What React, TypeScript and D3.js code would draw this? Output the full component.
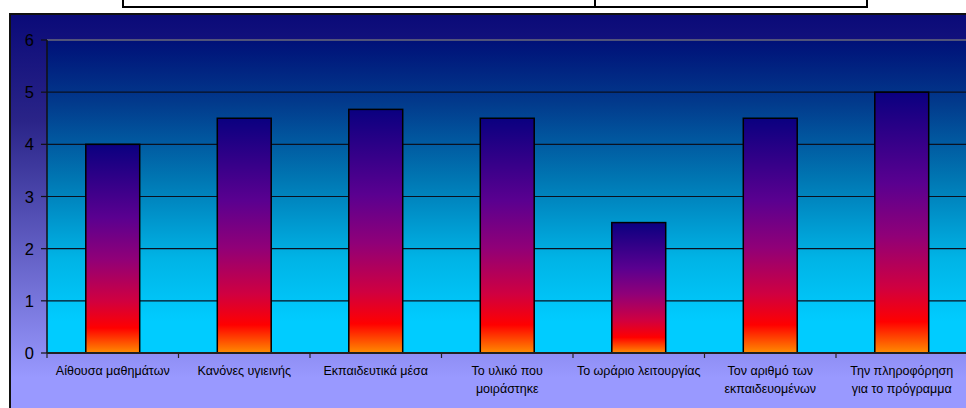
import React from "react";
import * as d3 from "d3";

const categories = [
  "Αίθουσα μαθημάτων",
  "Κανόνες υγιεινής",
  "Εκπαιδευτικά μέσα",
  "Το υλικό που μοιράστηκε",
  "Το ωράριο λειτουργίας",
  "Τον αριθμό των εκπαιδευομένων",
  "Την πληροφόρηση για το πρόγραμμα",
];
const labelLines = [
  ["Αίθουσα μαθημάτων"],
  ["Κανόνες υγιεινής"],
  ["Εκπαιδευτικά μέσα"],
  ["Το υλικό που", "μοιράστηκε"],
  ["Το ωράριο λειτουργίας"],
  ["Τον αριθμό των", "εκπαιδευομένων"],
  ["Την πληροφόρηση", "για το πρόγραμμα"],
];
const values = [4, 4.5, 4.67, 4.5, 2.5, 4.5, 5];
const yTicks = [0, 1, 2, 3, 4, 5, 6];

const W = 966;
const H = 408;
const plotLeft = 47;
const plotRight = 967.5;
const plotTop = 40;
const plotBottom = 353;

export default function App() {
  const x = d3
    .scaleBand<string>()
    .domain(categories)
    .range([plotLeft, plotRight])
    .paddingInner(0.59)
    .paddingOuter(0.295);
  const xb = d3.scaleBand<string>().domain(categories).range([plotLeft, plotRight]).padding(0);
  const y = d3.scaleLinear().domain([0, 6]).range([plotBottom, plotTop]);
  const font = "'Liberation Sans', Arial, sans-serif";

  return (
    <svg
      width={W}
      height={H}
      style={{ position: "absolute", left: 0, top: 0, display: "block" }}
    >
      <defs>
        <linearGradient id="outerBg" x1="0" y1="0" x2="0" y2="1">
          <stop offset="0" stopColor="#0a0a78" />
          <stop offset="0.25" stopColor="#2a2488" />
          <stop offset="0.85" stopColor="#9999ff" />
          <stop offset="1" stopColor="#9999ff" />
        </linearGradient>
        <linearGradient id="plotBg" gradientUnits="userSpaceOnUse" x1="0" y1={plotTop} x2="0" y2={plotBottom}>
          <stop offset="0" stopColor="#001078" />
          <stop offset="0.2" stopColor="#023a8c" />
          <stop offset="0.45" stopColor="#0078b4" />
          <stop offset="0.7" stopColor="#00b4e6" />
          <stop offset="0.9" stopColor="#00ccff" />
          <stop offset="1" stopColor="#00ccff" />
        </linearGradient>
        <linearGradient id="barGrad" x1="0" y1="0" x2="0" y2="1">
          <stop offset="0" stopColor="#0a0080" />
          <stop offset="0.35" stopColor="#5a0090" />
          <stop offset="0.55" stopColor="#900078" />
          <stop offset="0.75" stopColor="#d00040" />
          <stop offset="0.88" stopColor="#ff0000" />
          <stop offset="1" stopColor="#ff8c00" />
        </linearGradient>
      </defs>

      {/* top white box remnant */}
      <rect x={123} y={-5} width={744} height={12} fill="#fff" stroke="#000" strokeWidth={2} />
      <line x1={595} x2={595} y1={-5} y2={7} stroke="#000" strokeWidth={2} />

      {/* outer chart area */}
      <rect x={10} y={14} width={W + 20} height={H + 20} fill="url(#outerBg)" stroke="#111" strokeWidth={2} />

      {/* plot area */}
      <rect x={plotLeft} y={plotTop} width={plotRight - plotLeft + 20} height={plotBottom - plotTop} fill="url(#plotBg)" />

      {/* gridlines */}
      {yTicks.map((t) => (
        <line
          key={t}
          x1={plotLeft}
          x2={W}
          y1={y(t)}
          y2={y(t)}
          stroke={t === 6 ? "#6a6a7a" : "#0a1020"}
          strokeWidth={t === 6 ? 1.5 : 1.2}
        />
      ))}

      {/* bars */}
      {categories.map((c, i) => (
        <rect
          key={c}
          x={x(c)}
          y={y(values[i])}
          width={x.bandwidth()}
          height={y(0) - y(values[i])}
          fill="url(#barGrad)"
          stroke="#000"
          strokeWidth={1.5}
        />
      ))}

      {/* axes */}
      <line x1={plotLeft} x2={plotLeft} y1={plotTop} y2={plotBottom} stroke="#111" strokeWidth={1.5} />
      <line x1={plotLeft} x2={W} y1={plotBottom} y2={plotBottom} stroke="#222" strokeWidth={2} />
      {yTicks.map((t) => (
        <g key={t}>
          <line x1={41} x2={plotLeft} y1={y(t)} y2={y(t)} stroke="#111" strokeWidth={1.2} />
          <text x={34} y={y(t) + 6} textAnchor="end" fontFamily={font} fontSize={16.5} fill="#000">
            {t}
          </text>
        </g>
      ))}
      {categories.map((c) => (
        <line key={c} x1={xb(c)!} x2={xb(c)!} y1={plotBottom} y2={plotBottom + 5} stroke="#222" strokeWidth={1.2} />
      ))}
      {categories.map((c, i) => (
        <text
          key={c}
          x={xb(c)! + xb.bandwidth() / 2}
          y={375}
          textAnchor="middle"
          fontFamily={font}
          fontSize={12.5}
          fill="#000"
        >
          {labelLines[i].map((l, j) => (
            <tspan key={j} x={xb(c)! + xb.bandwidth() / 2} dy={j === 0 ? 0 : 18}>
              {l}
            </tspan>
          ))}
        </text>
      ))}
    </svg>
  );
}
